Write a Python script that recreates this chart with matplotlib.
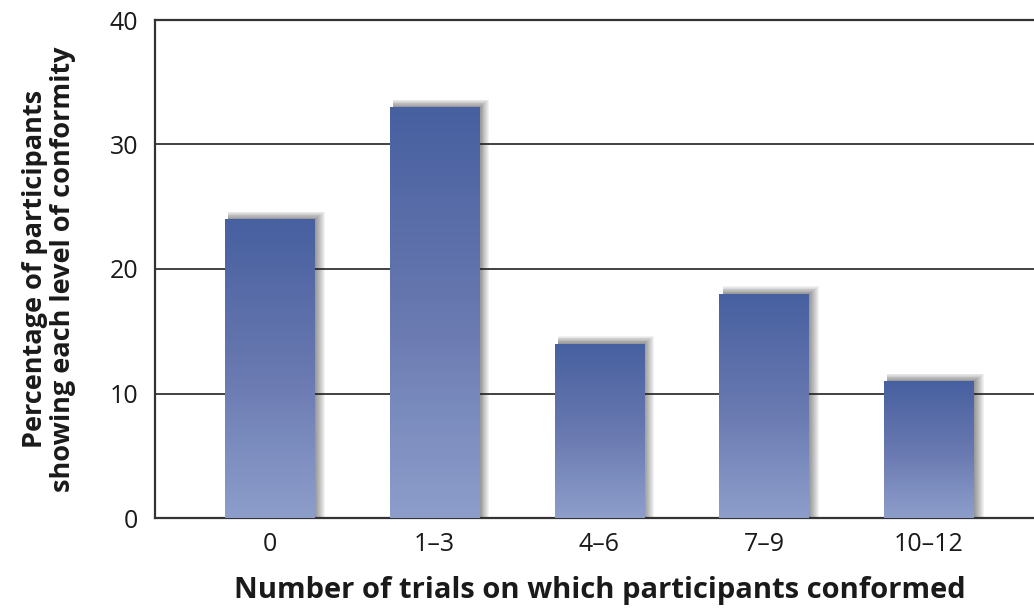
import numpy as np
import matplotlib
matplotlib.use("Agg")
from matplotlib import pyplot as plt
from matplotlib import patches as mpatches
from matplotlib.colors import LinearSegmentedColormap

# data
categories = ['0', '1\u20133', '4\u20136', '7\u20139', '10\u201312']
percentages = [24, 33, 14, 18, 11]
y_ticks = [0, 10, 20, 30, 40]

plt.rcParams['font.family'] = ['Open Sans', 'DejaVu Sans']

fig = plt.figure(figsize=(10.34, 6.12), dpi=100)
ax = fig.add_axes([155 / 1034, 1 - 518 / 612, 1 - 155 / 1034 + 0.01, (518 - 20) / 612])

# gradient from dark blue at the top to pale blue at the bottom
cmap = LinearSegmentedColormap.from_list('bar', ['#8d9ecb', '#6878b0', '#4760a0'])
grad = np.linspace(0, 1, 256).reshape(-1, 1)

width = 0.545
x = np.arange(len(categories))
for xi, v in zip(x, percentages):
    # soft blurred shadow, mostly to the right and a little above
    for k in range(10):
        dx = 0.006 * (k + 1)
        dy = 0.06 * (k + 1)
        sh = mpatches.Rectangle((xi - width / 2 + 0.02, 0), width - 0.02 + dx, v + dy,
                                facecolor='#202020', edgecolor='none', alpha=0.055, zorder=2)
        ax.add_patch(sh)
    rect = mpatches.Rectangle((xi - width / 2, 0), width, v, facecolor='none',
                              edgecolor='none', zorder=3)
    ax.add_patch(rect)
    im = ax.imshow(grad, cmap=cmap, aspect='auto', origin='lower',
                   extent=[xi - width / 2, xi + width / 2, 0, v], zorder=3)
    im.set_clip_path(rect)

ax.set_xlim(-0.697, 4.70)
ax.set_ylim(0, 40)
ax.set_yticks(y_ticks)
ax.set_xticks(x)
ax.set_xticklabels(categories)
ax.tick_params(length=0, labelsize=18, colors='#1a1a1a')
ax.tick_params(axis='x', pad=10)
ax.tick_params(axis='y', pad=12)

for yv in y_ticks[1:-1]:
    ax.axhline(yv, color='#333333', lw=1.3, zorder=1)

for side in ['left', 'top', 'bottom']:
    ax.spines[side].set_linewidth(1.6)
    ax.spines[side].set_color('#333333')
ax.spines['right'].set_visible(False)

ax.set_xlabel('Number of trials on which participants conformed', fontsize=21,
              fontweight='bold', color='#1a1a1a', labelpad=14)
ax.set_ylabel('Percentage of participants\nshowing each level of conformity', fontsize=19.5,
              fontweight='bold', color='#1a1a1a', labelpad=24, linespacing=1.12)

fig.savefig('out.png', dpi=100)
